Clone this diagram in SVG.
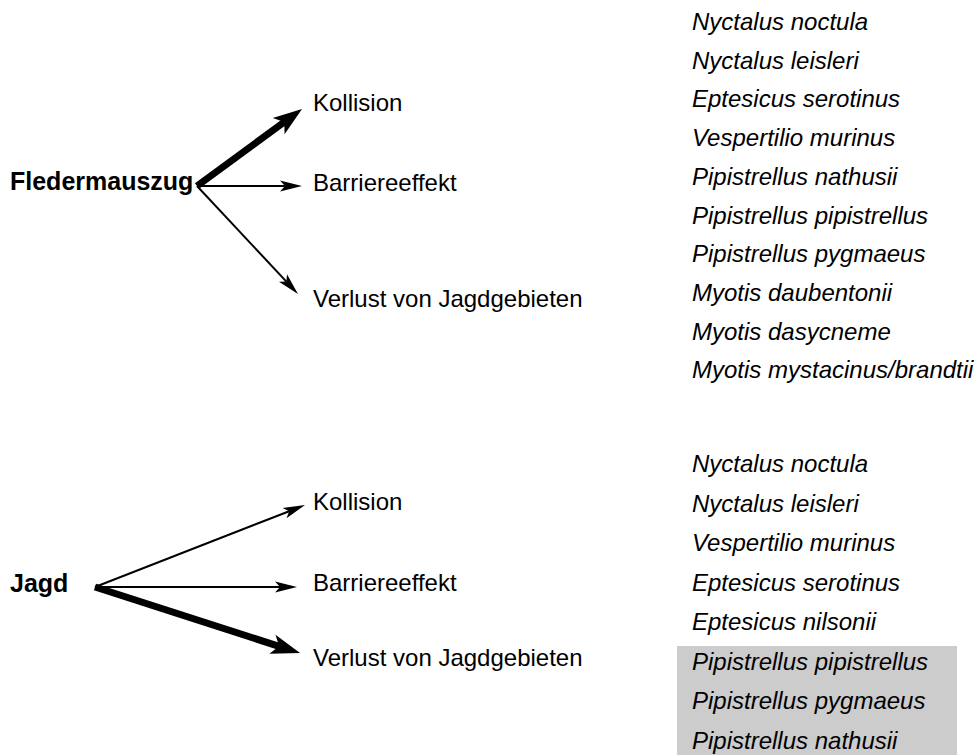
<svg xmlns="http://www.w3.org/2000/svg" width="976" height="755" viewBox="0 0 976 755">
<style>
text{font-family:"Liberation Sans",Arial,sans-serif;font-size:24px;fill:#000}
.b{font-weight:bold;font-size:25px}
.sp{font-style:italic}
.thin{stroke:#000;stroke-width:2;fill:none}
.thick{stroke:#000;stroke-width:7;fill:none}
</style>
<defs>
<marker id="ht" markerUnits="userSpaceOnUse" orient="auto" refX="0" refY="0" overflow="visible" markerWidth="1" markerHeight="1">
<path d="M-5,-5.5 L17,0 L-5,5.5 L0,0 Z" fill="#000"/>
</marker>
<marker id="hT" markerUnits="userSpaceOnUse" orient="auto" refX="0" refY="0" overflow="visible" markerWidth="1" markerHeight="1">
<path d="M-7,-10 L22,0 L-7,10 L0,0 Z" fill="#000"/>
</marker>
</defs>
<rect x="677" y="646" width="280" height="109" fill="#cccccc"/>
<g id="connectors">
<line class="thick" x1="197" y1="186" x2="284.3" y2="122" marker-end="url(#hT)"/>
<line class="thin" x1="197" y1="186" x2="285" y2="186" marker-end="url(#ht)"/>
<line class="thin" x1="197" y1="186" x2="286.4" y2="281.6" marker-end="url(#ht)"/>
<line class="thin" x1="95" y1="587" x2="289.2" y2="511.2" marker-end="url(#ht)"/>
<line class="thin" x1="95" y1="587" x2="280" y2="587" marker-end="url(#ht)"/>
<line class="thick" x1="95" y1="587" x2="279.1" y2="646.3" marker-end="url(#hT)"/>
</g>
<g id="fledermauszug"><text class="b" x="10" y="190">Fledermauszug</text></g>
<g id="f-kollision"><text x="313" y="111">Kollision</text></g>
<g id="f-barriere"><text x="313" y="191">Barriereeffekt</text></g>
<g id="f-verlust"><text x="313" y="307">Verlust von Jagdgebieten</text></g>
<g id="f-species">
<text class="sp" x="692" y="30">Nyctalus noctula</text>
<text class="sp" x="692" y="68.7">Nyctalus leisleri</text>
<text class="sp" x="692" y="107.4">Eptesicus serotinus</text>
<text class="sp" x="692" y="146.1">Vespertilio murinus</text>
<text class="sp" x="692" y="184.8">Pipistrellus nathusii</text>
<text class="sp" x="692" y="223.5">Pipistrellus pipistrellus</text>
<text class="sp" x="692" y="262.2">Pipistrellus pygmaeus</text>
<text class="sp" x="692" y="300.9">Myotis daubentonii</text>
<text class="sp" x="692" y="339.6">Myotis dasycneme</text>
<text class="sp" x="692" y="378.3">Myotis mystacinus/brandtii</text>
</g>
<g id="jagd"><text class="b" x="10" y="592">Jagd</text></g>
<g id="j-kollision"><text x="313" y="510">Kollision</text></g>
<g id="j-barriere"><text x="313" y="591">Barriereeffekt</text></g>
<g id="j-verlust"><text x="313" y="666">Verlust von Jagdgebieten</text></g>
<g id="j-species">
<text class="sp" x="692" y="472">Nyctalus noctula</text>
<text class="sp" x="692" y="511.5">Nyctalus leisleri</text>
<text class="sp" x="692" y="551">Vespertilio murinus</text>
<text class="sp" x="692" y="590.5">Eptesicus serotinus</text>
<text class="sp" x="692" y="630">Eptesicus nilsonii</text>
<text class="sp" x="692" y="669.5">Pipistrellus pipistrellus</text>
<text class="sp" x="692" y="709">Pipistrellus pygmaeus</text>
<text class="sp" x="692" y="748.5">Pipistrellus nathusii</text>
</g>
</svg>
